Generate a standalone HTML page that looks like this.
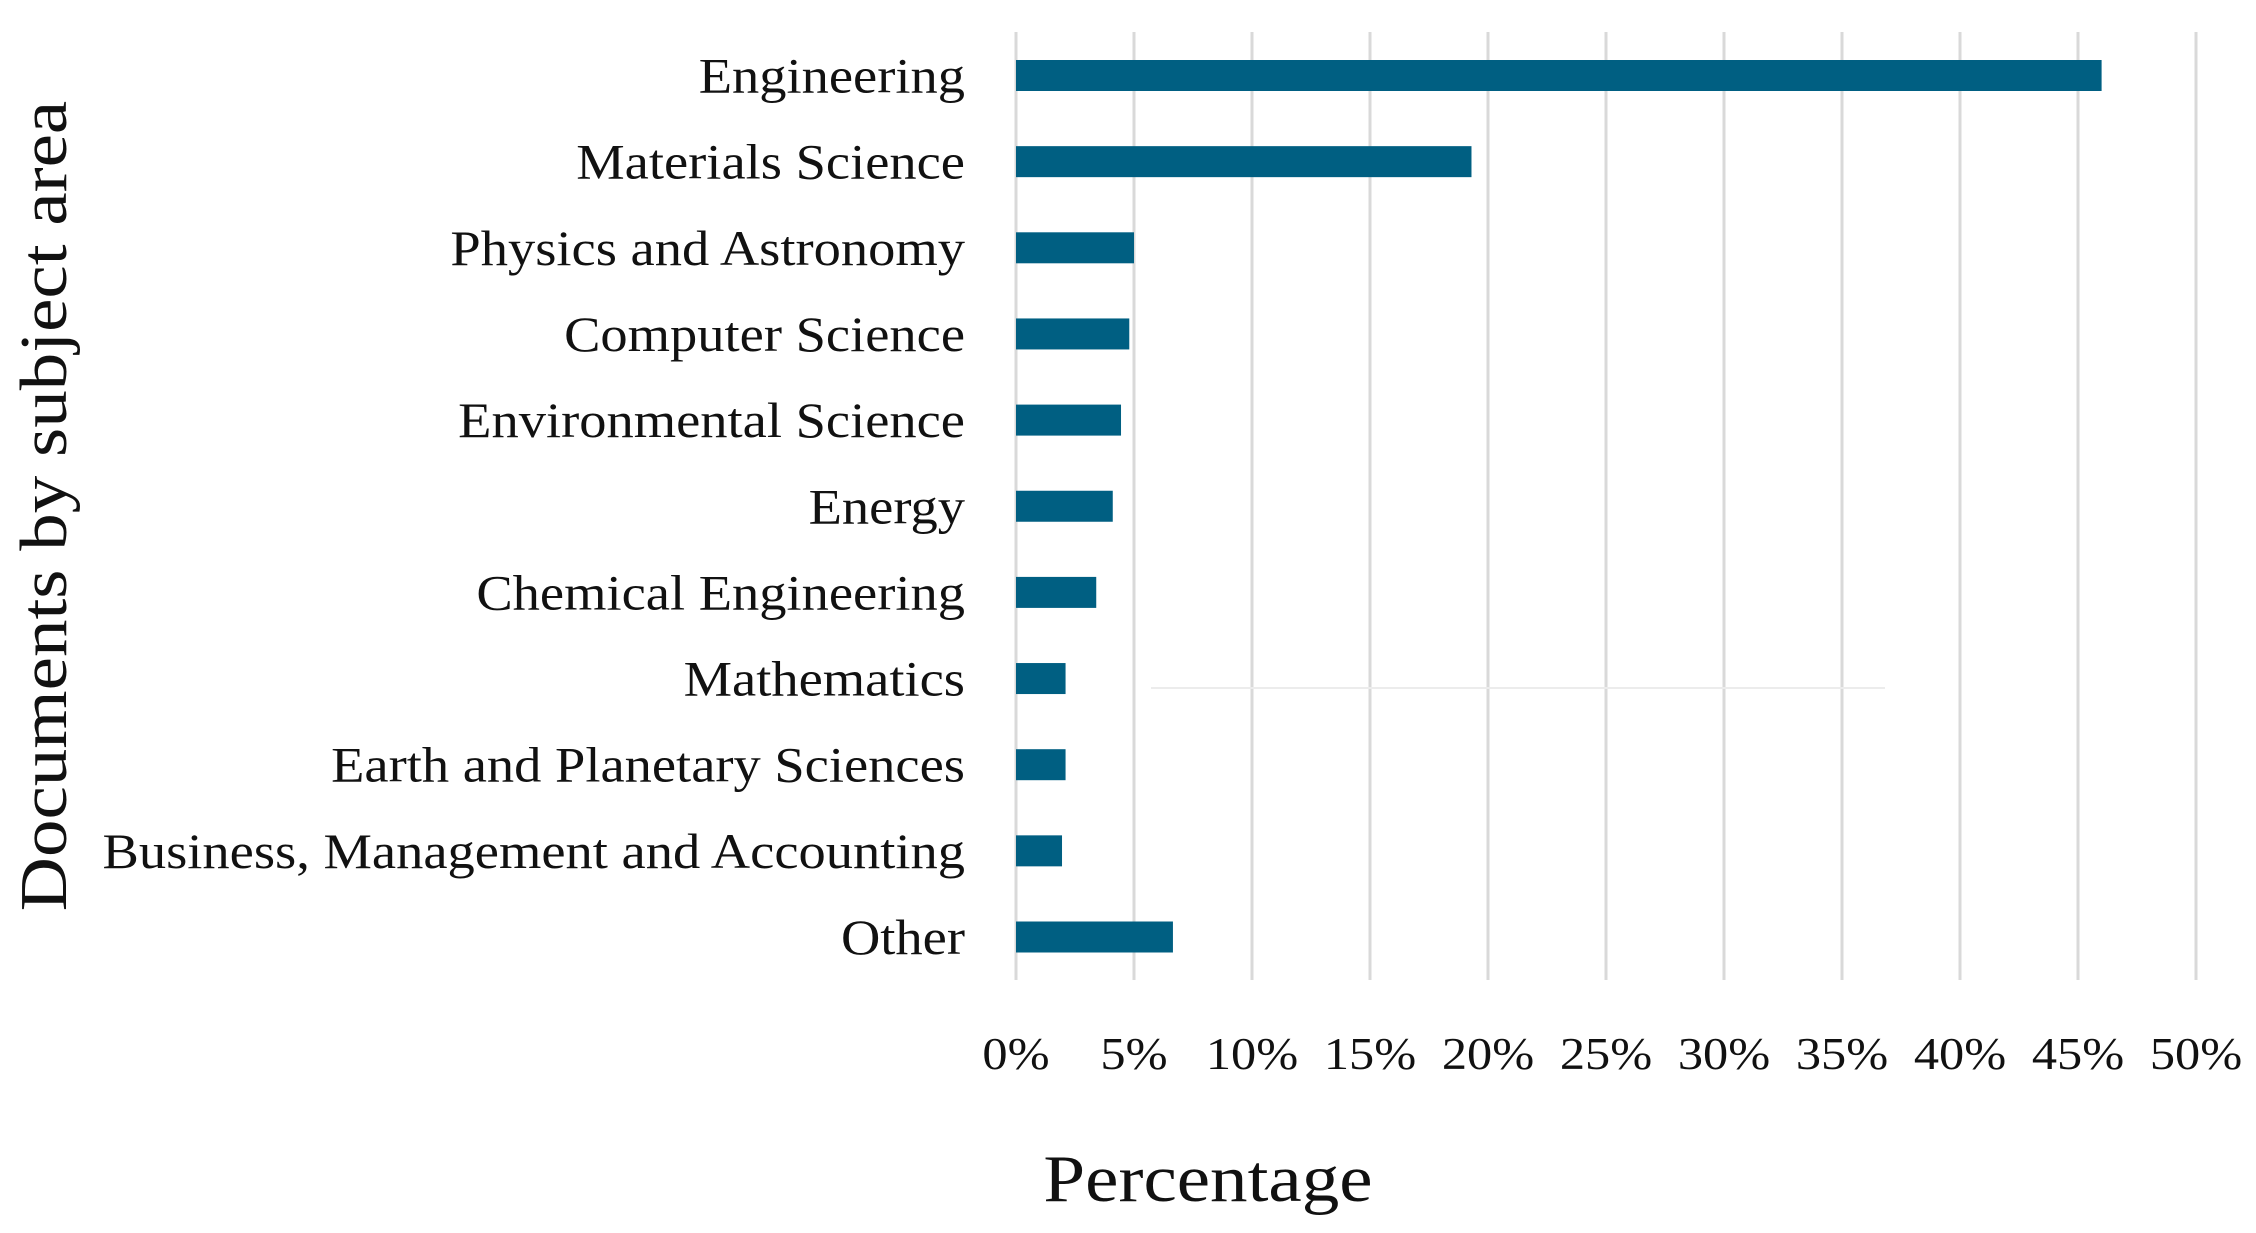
<!DOCTYPE html>
<html><head><meta charset="utf-8"><style>
html,body{margin:0;padding:0;background:#fff;}
svg{display:block;}
text{font-family:"Liberation Serif",serif;fill:#111;}
</style></head><body>
<svg id="chart" width="2256" height="1233" viewBox="0 0 2256 1233" xmlns="http://www.w3.org/2000/svg">
<g id="grid"></g>
<line x1="1151" y1="688" x2="1885" y2="688" stroke="#ececec" stroke-width="2"/>
<g id="bars"></g>
<g id="labels"></g>
<g id="ticks"></g>
<text x="1208" y="1201" font-size="67" text-anchor="middle" transform="translate(1208 0) scale(1.12 1) translate(-1208 0)">Percentage</text>
<text x="0" y="0" font-size="67" text-anchor="middle" transform="translate(66 506) rotate(-90) scale(1.12 1)">Documents by subject area</text>
</svg>
<script>
const categories = ["Engineering","Materials Science","Physics and Astronomy","Computer Science","Environmental Science","Energy","Chemical Engineering","Mathematics","Earth and Planetary Sciences","Business, Management and Accounting","Other"];
const values = [46.0,19.3,5.0,4.8,4.45,4.1,3.4,2.1,2.1,1.95,6.65];
const tickValues = [0,5,10,15,20,25,30,35,40,45,50];
const tickLabels = ["0%","5%","10%","15%","20%","25%","30%","35%","40%","45%","50%"];

const NS = "http://www.w3.org/2000/svg";
const x0 = 1016, x1 = 2196, xMax = 50;
const yTop = 32, yBot = 980;
const firstY = 75.5, step = 86.15, barH = 31;
function xs(v){ return x0 + (v / xMax) * (x1 - x0); }
function ys(i){ return firstY + i * step; }

const grid = document.getElementById('grid');
const ticks = document.getElementById('ticks');
tickValues.forEach((t, i) => {
  const l = document.createElementNS(NS, 'line');
  l.setAttribute('x1', xs(t)); l.setAttribute('x2', xs(t));
  l.setAttribute('y1', yTop); l.setAttribute('y2', yBot);
  l.setAttribute('stroke', '#d9d9d9'); l.setAttribute('stroke-width', '3');
  
  
  grid.appendChild(l);
  const tx = document.createElementNS(NS, 'text');
  tx.setAttribute('x', 0); tx.setAttribute('y', 0);
  tx.setAttribute('font-size', '45');
  tx.setAttribute('text-anchor', 'middle');
  tx.setAttribute('transform', `translate(${xs(t)} 1069) scale(1.12 1)`);
  tx.textContent = tickLabels[i];
  
  
  ticks.appendChild(tx);
});

const bars = document.getElementById('bars');
const labels = document.getElementById('labels');
categories.forEach((c, i) => {
  const r = document.createElementNS(NS, 'rect');
  r.setAttribute('x', xs(0)); r.setAttribute('y', ys(i) - barH / 2);
  r.setAttribute('width', xs(values[i]) - xs(0)); r.setAttribute('height', barH);
  r.setAttribute('fill', '#005f82');
  
  
  bars.appendChild(r);
  const tx = document.createElementNS(NS, 'text');
  tx.setAttribute('x', 0); tx.setAttribute('y', 0);
  tx.setAttribute('font-size', '50');
  tx.setAttribute('text-anchor', 'end');
  tx.setAttribute('transform', `translate(965 ${ys(i) + 17}) scale(1.09 1)`);
  tx.textContent = c;
  
  
  labels.appendChild(tx);
});
</script>
</body></html>
